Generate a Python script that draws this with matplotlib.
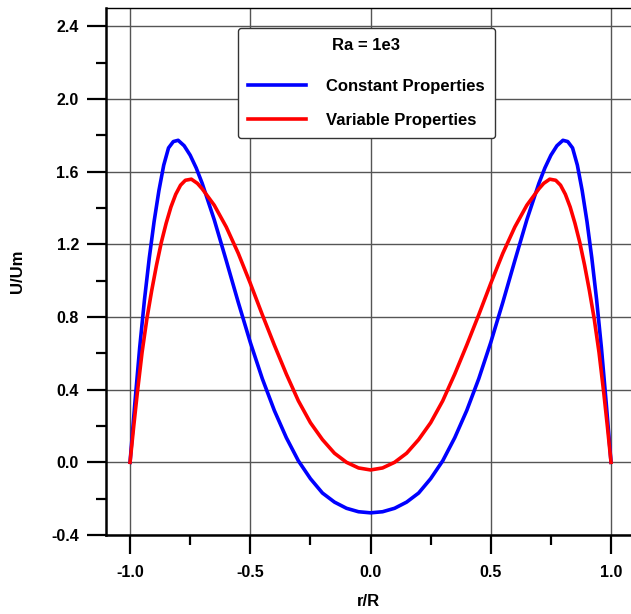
import matplotlib
matplotlib.use('Agg')
import matplotlib.pyplot as plt
from matplotlib.ticker import MultipleLocator, FormatStrFormatter

plt.rcParams['font.family'] = ['Liberation Sans', 'DejaVu Sans']
plt.rcParams['font.weight'] = 'bold'
plt.rcParams['axes.unicode_minus'] = False

# values (r/R, U/Um)
r_const = [-1.0, -0.98, -0.96, -0.94, -0.92, -0.9, -0.88, -0.86, -0.84, -0.82,
           -0.8, -0.775, -0.75, -0.725, -0.7, -0.65, -0.6, -0.55, -0.5, -0.45,
           -0.4, -0.35, -0.3, -0.25, -0.2, -0.15, -0.1, -0.05, 0.0,
           0.05, 0.1, 0.15, 0.2, 0.25, 0.3, 0.35, 0.4, 0.45, 0.5,
           0.55, 0.6, 0.65, 0.7, 0.725, 0.75, 0.775, 0.8, 0.82, 0.84,
           0.86, 0.88, 0.9, 0.92, 0.94, 0.96, 0.98, 1.0]
u_const = [0.0, 0.325, 0.63, 0.895, 1.125, 1.325, 1.495, 1.635, 1.73, 1.765,
           1.772, 1.742, 1.69, 1.62, 1.535, 1.335, 1.11, 0.88, 0.66, 0.46,
           0.285, 0.135, 0.008, -0.09, -0.169, -0.219, -0.253, -0.272, -0.278,
           -0.272, -0.253, -0.219, -0.169, -0.09, 0.008, 0.135, 0.285, 0.46, 0.66,
           0.88, 1.11, 1.335, 1.535, 1.62, 1.69, 1.742, 1.772, 1.765, 1.73,
           1.635, 1.495, 1.325, 1.125, 0.895, 0.63, 0.325, 0.0]

r_var = [-1.0, -0.985, -0.97, -0.95, -0.93, -0.91, -0.89, -0.87, -0.85, -0.83,
         -0.81, -0.79, -0.77, -0.745, -0.72, -0.7, -0.65, -0.6, -0.55, -0.5,
         -0.45, -0.4, -0.35, -0.3, -0.25, -0.2, -0.15, -0.1, -0.05, 0.0,
         0.05, 0.1, 0.15, 0.2, 0.25, 0.3, 0.35, 0.4, 0.45, 0.5,
         0.55, 0.6, 0.65, 0.7, 0.72, 0.745, 0.77, 0.79, 0.81, 0.83,
         0.85, 0.87, 0.89, 0.91, 0.93, 0.95, 0.97, 0.985, 1.0]
u_var = [0.0, 0.195, 0.38, 0.605, 0.79, 0.945, 1.085, 1.21, 1.315, 1.405,
         1.475, 1.525, 1.552, 1.558, 1.535, 1.505, 1.415, 1.295, 1.15, 0.985,
         0.812, 0.645, 0.485, 0.338, 0.218, 0.125, 0.05, 0.0, -0.031, -0.042,
         -0.031, 0.0, 0.05, 0.125, 0.218, 0.338, 0.485, 0.645, 0.812, 0.985,
         1.15, 1.295, 1.415, 1.505, 1.535, 1.558, 1.552, 1.525, 1.475, 1.405,
         1.315, 1.21, 1.085, 0.945, 0.79, 0.605, 0.38, 0.195, 0.0]

fig = plt.figure(figsize=(6.31, 6.14), dpi=100)
ax = fig.add_axes([106 / 631, 79 / 614, 525 / 631, 527 / 614])

ax.plot(r_const, u_const, color='#0000ff', lw=2.6, label='Constant Properties', zorder=3)
ax.plot(r_var, u_var, color='#ff0000', lw=2.6, label='Variable Properties', zorder=3)

ax.set_xlim(-1.1, 1.083)
ax.set_ylim(-0.4, 2.5)
ax.xaxis.set_major_locator(MultipleLocator(0.5))
ax.xaxis.set_minor_locator(MultipleLocator(0.25))
ax.yaxis.set_major_locator(MultipleLocator(0.4))
ax.yaxis.set_minor_locator(MultipleLocator(0.2))
ax.xaxis.set_major_formatter(FormatStrFormatter('%.1f'))
ax.yaxis.set_major_formatter(FormatStrFormatter('%.1f'))

ax.grid(True, which='major', color='#555555', lw=1.0)
ax.tick_params(which='major', direction='out', length=13.5, width=1.6, labelsize=11.5, pad=6)
ax.tick_params(which='minor', direction='out', length=7, width=1.6)
ax.tick_params(axis='x', pad=8)
ax.tick_params(top=False, right=False, which='both')

ax.spines['right'].set_visible(False)
ax.spines['left'].set_linewidth(1.8)
ax.spines['bottom'].set_linewidth(1.8)
ax.spines['top'].set_linewidth(1.0)

ax.set_xlabel('r/R', fontsize=12, fontweight='bold', labelpad=10)
ax.set_ylabel('U/Um', fontsize=12, fontweight='bold', labelpad=19)

leg = ax.legend(loc='upper left', bbox_to_anchor=(0.2514, 0.962), borderaxespad=0,
                title='Ra = 1e3', fontsize=12, title_fontsize=12,
                fancybox=True, framealpha=1, edgecolor='#333333',
                handlelength=3.5, handletextpad=1.2, labelspacing=1.15,
                borderpad=0.6)
leg.get_title().set_fontweight('bold')
leg.get_frame().set_linewidth(1.0)
# a bit more room between the title and the entries
leg._legend_box.sep = 18.5
for t in leg.get_texts():
    t.set_fontweight('bold')

fig.savefig('out.png', dpi=100)
